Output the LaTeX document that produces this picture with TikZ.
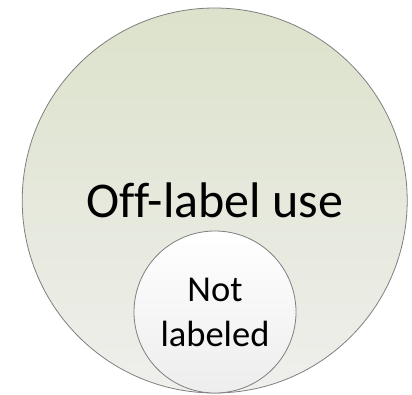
\documentclass[tikz,border=0pt]{standalone}
\usepackage{fontspec}
\setmainfont{Carlito}[Ligatures=NoCommon]
\usepackage{tikz}
\usetikzlibrary{positioning}
\definecolor{olivetop}{HTML}{DCE2CB}
\definecolor{olivebot}{HTML}{EFEFEC}
\definecolor{pearltop}{HTML}{FFFFFF}
\definecolor{pearlbot}{HTML}{EDEDED}
\definecolor{rim}{HTML}{7F7F7F}
\tikzset{
  bigset/.style={circle,draw=rim,line width=0.8pt,top color=olivetop,bottom color=olivebot,
    minimum size=385pt,inner sep=0pt,font=\fontsize{50}{60}\selectfont},
  subset/.style={circle,draw=rim,line width=0.8pt,top color=pearltop,bottom color=pearlbot,
    minimum size=162pt,inner sep=0pt,align=center,font=\fontsize{36.5}{45}\selectfont},
}

\begin{document}
\begin{tikzpicture}[x=1pt,y=-1pt]
  \useasboundingbox (0,0) rectangle (412,394);
  \node[bigset] (offlabel) at (214.7,200.5){Off-label use};
  \node[subset] (notlab) at (215,312){Not\\labeled};
\end{tikzpicture}
\end{document}
